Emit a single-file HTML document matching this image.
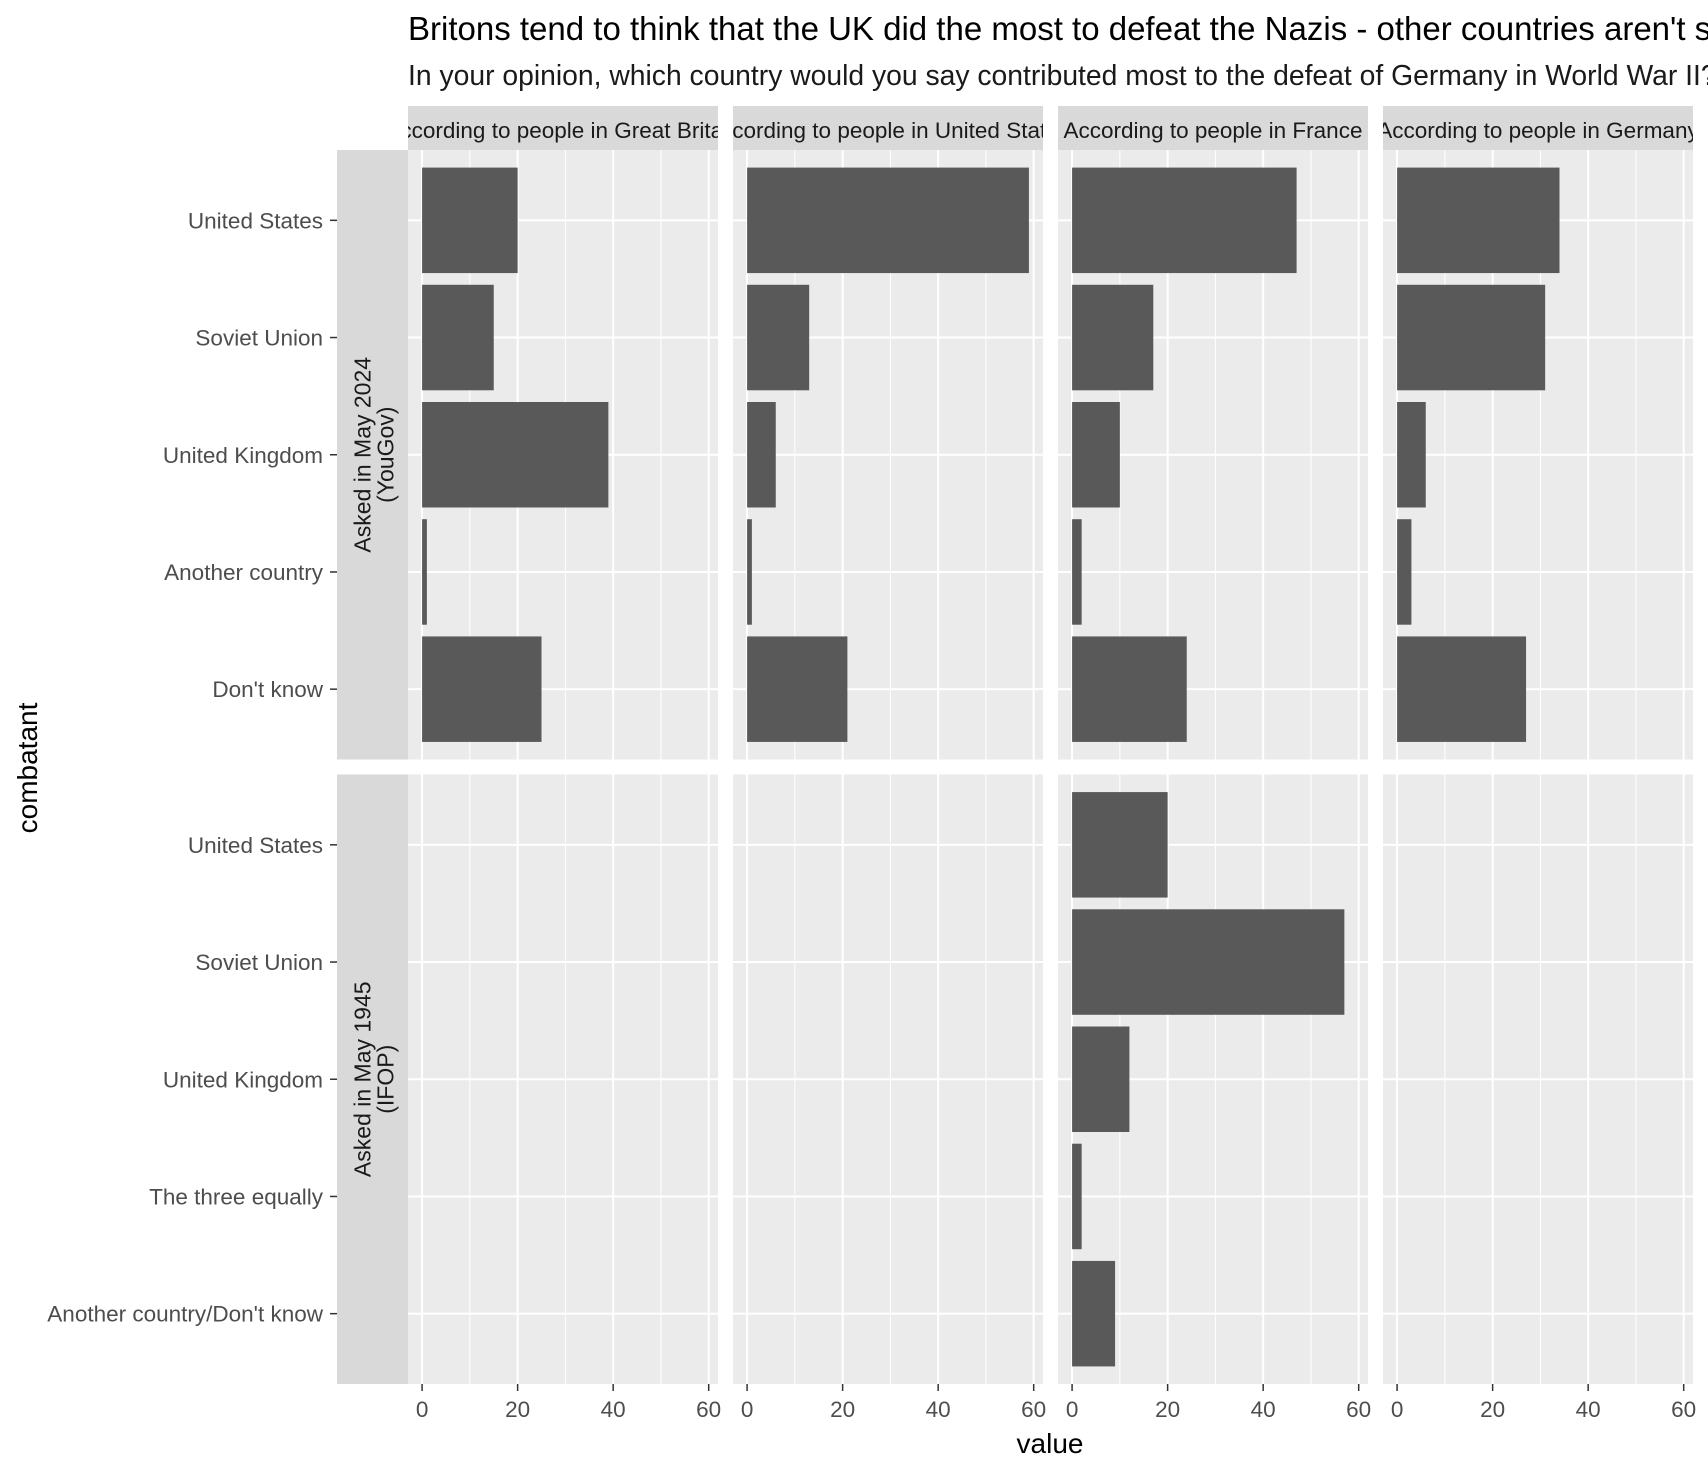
<!DOCTYPE html>
<html><head><meta charset="utf-8">
<style>
html,body{margin:0;padding:0;background:#fff;}
svg{display:block;font-family:"Liberation Sans",Arial,sans-serif;}
</style></head>
<body>
<svg id="chart" width="1708" height="1472" viewBox="0 0 1708 1472" xmlns="http://www.w3.org/2000/svg">
<text x="408" y="40" font-size="33" fill="#000">Britons tend to think that the UK did the most to defeat the Nazis - other countries aren't so sure</text>
<text x="408" y="85" font-size="28.3" fill="#1a1a1a">In your opinion, which country would you say contributed most to the defeat of Germany in World War II?</text>
<text transform="translate(37,768) rotate(-90)" text-anchor="middle" font-size="28" fill="#000">combatant</text>
<text x="1050" y="1453" text-anchor="middle" font-size="28" fill="#000">value</text>
<g id="plot"></g>
</svg>
<script>
const columns = ["According to people in Great Britain","According to people in United States","According to people in France","According to people in Germany"];
const rowLabels = [["Asked in May 2024","(YouGov)"],["Asked in May 1945","(IFOP)"]];
const categories2024 = ["United States","Soviet Union","United Kingdom","Another country","Don't know"];
const categories1945 = ["United States","Soviet Union","United Kingdom","The three equally","Another country/Don't know"];
const valuesGB2024 = [20,15,39,1,25];
const valuesUS2024 = [59,13,6,1,21];
const valuesFR2024 = [47,17,10,2,24];
const valuesDE2024 = [34,31,6,3,27];
const valuesFR1945 = [20,57,12,2,9];
const xTicks = [0,20,40,60];
const xMinor = [10,30,50];

const data = [
  [valuesGB2024, valuesUS2024, valuesFR2024, valuesDE2024],
  [null, null, valuesFR1945, null]
];
const cats = [categories2024, categories1945];

const NS="http://www.w3.org/2000/svg";
const g=document.getElementById('plot');
function mk(tag,attrs,parent){const e=document.createElementNS(NS,tag);for(const k in attrs)e.setAttribute(k,attrs[k]);(parent||g).appendChild(e);return e;}

const panelX0=408, panelW=310, gapX=15;
const rowTops=[150,774.5], panelH=609.5;
const xDom=[-2.95,61.95];
function xScale(c,v){const x0=panelX0+c*(panelW+gapX);return x0+(v-xDom[0])/(xDom[1]-xDom[0])*panelW;}
function yScale(r,i){const n=5;const step=panelH/(n+0.2);return rowTops[r]+step*(0.6+i);}
const bandH=panelH/5.2*0.9;

columns.forEach((lab,c)=>{
  const x0=panelX0+c*(panelW+gapX);
  const s=mk('rect',{x:x0,y:106,width:panelW,height:44,fill:'#d9d9d9'});
  
  
  const cp=mk('clipPath',{id:'clip'+c});
  mk('rect',{x:x0,y:106,width:panelW,height:44},cp);
  const t=mk('text',{x:x0+panelW/2,y:138,'text-anchor':'middle','font-size':'22.5',fill:'#1a1a1a','clip-path':'url(#clip'+c+')'});
  t.textContent=lab;
  
  
});

rowLabels.forEach((lab,r)=>{
  const s=mk('rect',{x:337,y:rowTops[r],width:71,height:panelH,fill:'#d9d9d9'});
  
  
  const cy=rowTops[r]+panelH/2;
  const t=mk('text',{transform:`translate(373,${cy}) rotate(-90)`,'text-anchor':'middle','font-size':'23',fill:'#1a1a1a'});
  
  
  const a=mk('tspan',{x:0,dy:'-0.1em'},t);a.textContent=lab[0];
  const b=mk('tspan',{x:0,dy:'1.0em'},t);b.textContent=lab[1];
});

for(let r=0;r<2;r++){
  cats[r].forEach((cat,i)=>{
    const y=yScale(r,i);
    const t=mk('text',{x:323,y:y+8,'text-anchor':'end','font-size':'22.5',fill:'#4d4d4d'});
    t.textContent=cat;
    
    
    mk('line',{x1:330,x2:337,y1:y,y2:y,stroke:'#333','stroke-width':1.5});
  });
  for(let c=0;c<4;c++){
    const x0=panelX0+c*(panelW+gapX);
    const p=mk('rect',{x:x0,y:rowTops[r],width:panelW,height:panelH,fill:'#ebebeb'});
    
    
    xMinor.forEach(v=>{const x=xScale(c,v);mk('line',{x1:x,x2:x,y1:rowTops[r],y2:rowTops[r]+panelH,stroke:'#fff','stroke-width':1});});
    xTicks.forEach(v=>{const x=xScale(c,v);mk('line',{x1:x,x2:x,y1:rowTops[r],y2:rowTops[r]+panelH,stroke:'#fff','stroke-width':2});});
    for(let i=0;i<5;i++){const y=yScale(r,i);mk('line',{x1:x0,x2:x0+panelW,y1:y,y2:y,stroke:'#fff','stroke-width':2});}
    const vals=data[r][c];
    if(vals){
      vals.forEach((v,i)=>{
        const y=yScale(r,i);
        const b=mk('rect',{x:xScale(c,0),y:y-bandH/2,width:xScale(c,v)-xScale(c,0),height:bandH,fill:'#595959'});
        
        
      });
    }
  }
}
for(let c=0;c<4;c++){
  xTicks.forEach(v=>{
    const x=xScale(c,v);
    mk('line',{x1:x,x2:x,y1:1384,y2:1391,stroke:'#333','stroke-width':1.5});
    const t=mk('text',{x:x,y:1417,'text-anchor':'middle','font-size':'22.5',fill:'#4d4d4d'});
    t.textContent=v;
    
    
  });
}
</script>
</body></html>
